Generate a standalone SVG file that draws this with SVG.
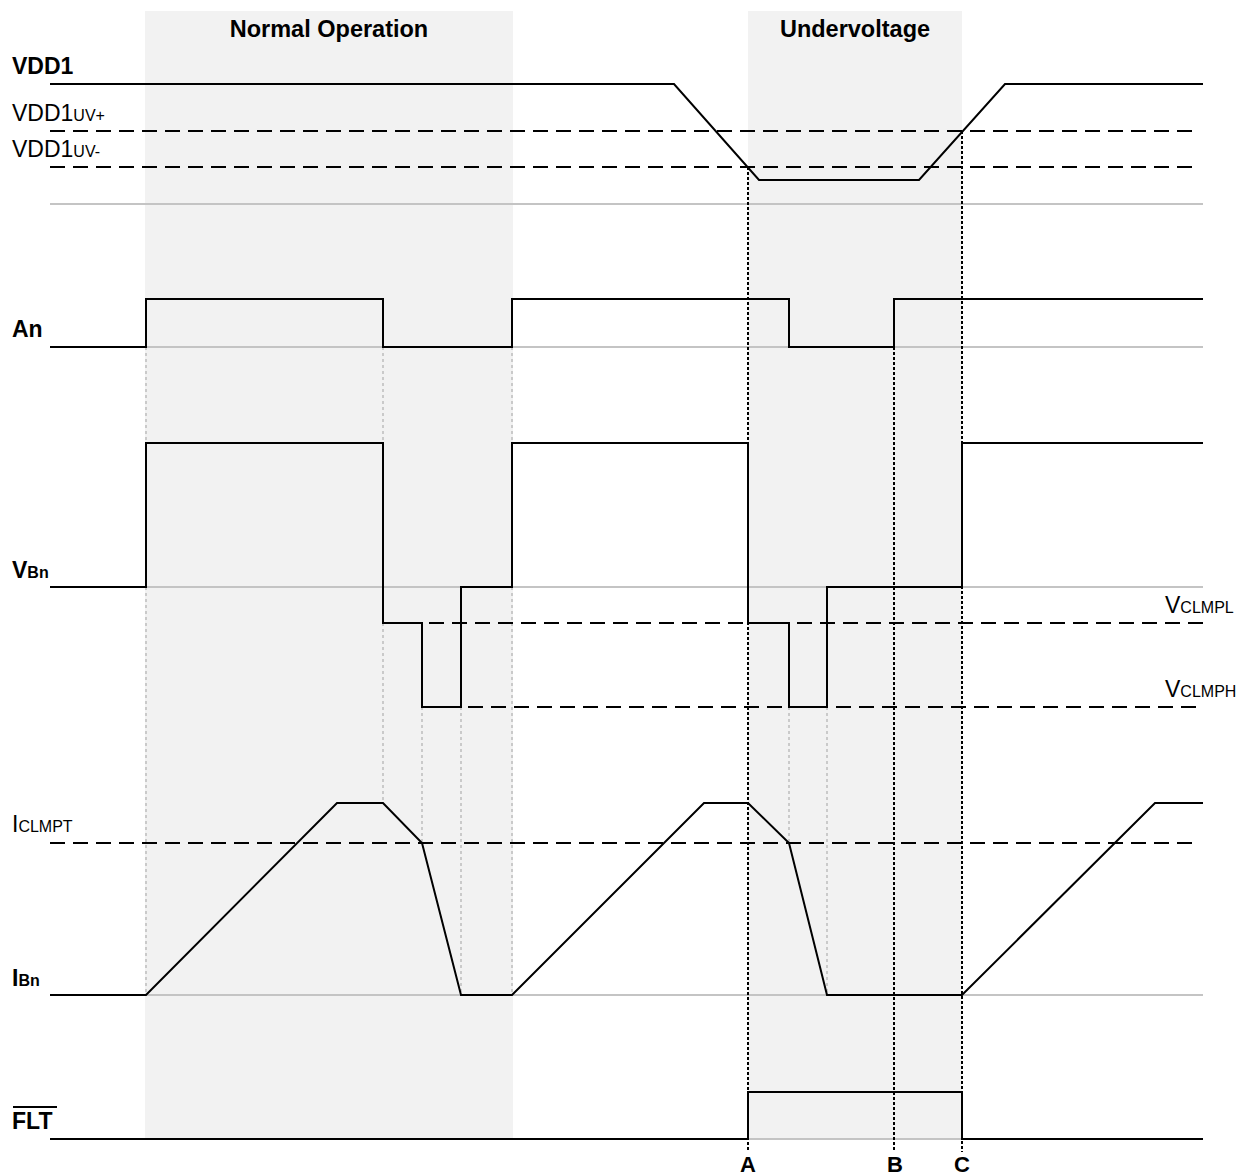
<svg xmlns="http://www.w3.org/2000/svg" width="1239" height="1176" viewBox="0 0 1239 1176">
<style>
text{font-family:"Liberation Sans",Arial,sans-serif;fill:#000}
.b{font-weight:bold}
.lbl{font-size:23px}
.sub{font-size:16px}
.ttl{font-size:23.5px;font-weight:bold}
.abc{font-size:22px;font-weight:bold;text-anchor:middle}
.shade{fill:#f2f2f2}
.base{stroke:#c4c4c4;stroke-width:2;fill:none}
.wave{stroke:#000;stroke-width:2;fill:none;stroke-linejoin:miter}
.dash{stroke:#000;stroke-width:2;fill:none;stroke-dasharray:15 8}
.gdot{stroke:#bdbdbd;stroke-width:1.5;fill:none;stroke-dasharray:3 3}
.kdot{stroke:#000;stroke-width:2;fill:none;stroke-dasharray:3 2}
</style>
<rect width="1239" height="1176" fill="#fff"/>
<g id="regions">
<rect class="shade" x="145" y="11" width="368" height="1128"/>
<rect class="shade" x="748" y="11" width="214" height="1128"/>
<text class="ttl" x="329" y="37" text-anchor="middle">Normal Operation</text>
<text class="ttl" x="855" y="37" text-anchor="middle">Undervoltage</text>
</g>
<g id="baselines">
<line class="base" x1="50" y1="204" x2="1203" y2="204"/>
<line class="base" x1="50" y1="347" x2="1203" y2="347"/>
<line class="base" x1="50" y1="587" x2="1203" y2="587"/>
<line class="base" x1="50" y1="995" x2="1203" y2="995"/>
<line class="base" x1="50" y1="1139" x2="1203" y2="1139"/>
</g>
<g id="connectors">
<line class="gdot" x1="146" y1="347" x2="146" y2="995"/>
<line class="gdot" x1="383" y1="347" x2="383" y2="803"/>
<line class="gdot" x1="422" y1="623" x2="422" y2="843"/>
<line class="gdot" x1="461" y1="587" x2="461" y2="995"/>
<line class="gdot" x1="512" y1="347" x2="512" y2="995"/>
<line class="gdot" x1="789" y1="707" x2="789" y2="843"/>
<line class="gdot" x1="827" y1="707" x2="827" y2="995"/>
<line class="kdot" x1="748" y1="167" x2="748" y2="1152"/>
<line class="kdot" x1="894" y1="347" x2="894" y2="1152"/>
<line class="kdot" x1="962" y1="131" x2="962" y2="1152"/>
</g>
<g id="thresholds">
<line class="dash" x1="50" y1="131" x2="1195" y2="131"/>
<line class="dash" x1="50" y1="167" x2="1195" y2="167"/>
<line class="dash" x1="383" y1="623" x2="1203" y2="623"/>
<line class="dash" x1="422" y1="707" x2="1203" y2="707"/>
<line class="dash" x1="50" y1="843" x2="1195" y2="843"/>
</g>
<g id="vdd1">
<text class="lbl b" x="12" y="74">VDD1</text>
<text class="lbl" x="12" y="121">VDD1<tspan class="sub">UV+</tspan></text>
<text class="lbl" x="12" y="157">VDD1<tspan class="sub">UV-</tspan></text>
<polyline class="wave" points="50,84 674,84 759,180 919,180 1005,84 1203,84"/>
</g>
<g id="an">
<text class="lbl b" x="12" y="337">An</text>
<polyline class="wave" points="50,347 146,347 146,299 383,299 383,347 512,347 512,299 789,299 789,347 894,347 894,299 1203,299"/>
</g>
<g id="vbn">
<text class="lbl b" x="12" y="578">V<tspan class="sub">Bn</tspan></text>
<polyline class="wave" points="50,587 146,587 146,443 383,443 383,623 422,623 422,707 461,707 461,587 512,587 512,443 748,443 748,623 789,623 789,707 827,707 827,587 962,587 962,443 1203,443"/>
<text class="lbl" x="1165" y="613">V<tspan class="sub">CLMPL</tspan></text>
<text class="lbl" x="1165" y="697">V<tspan class="sub">CLMPH</tspan></text>
</g>
<g id="ibn">
<text class="lbl" x="12" y="832">I<tspan class="sub">CLMPT</tspan></text>
<text class="lbl b" x="12" y="986">I<tspan class="sub">Bn</tspan></text>
<polyline class="wave" points="50,995 146,995 337,803 383,803 422,843 461,995 512,995 704,803 748,803 789,843 827,995 962,995 1155,803 1203,803"/>
</g>
<g id="flt">
<text class="lbl b" x="12" y="1129">FLT</text>
<line x1="13" y1="1107" x2="57" y2="1107" stroke="#000" stroke-width="2"/>
<polyline class="wave" points="50,1139 748,1139 748,1092 962,1092 962,1139 1203,1139"/>
</g>
<g id="markers">
<text class="abc" x="748" y="1172">A</text>
<text class="abc" x="895" y="1172">B</text>
<text class="abc" x="962" y="1172">C</text>
</g>
</svg>
